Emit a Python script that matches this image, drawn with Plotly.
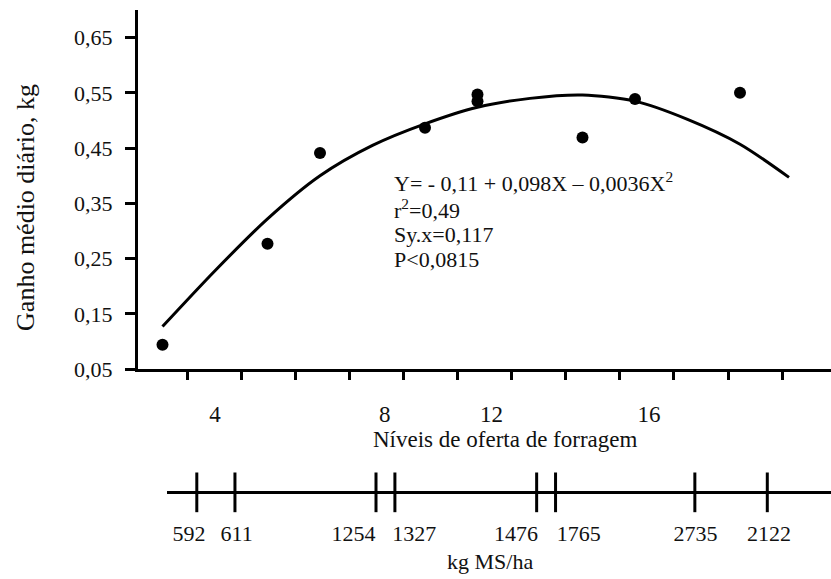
import plotly.graph_objects as go

# ---------------- data ----------------
# forage offer level (x) and daily gain (kg)
level_x = [2.5, 5.5, 7.0, 10.0, 11.5, 11.5, 14.5, 16.0, 19.0]
gain_y = [0.094, 0.277, 0.441, 0.487, 0.547, 0.535, 0.469, 0.539, 0.550]

# fitted quadratic curve
curve_x = [2.5, 4.0, 5.5, 7.0, 8.5, 10.0, 11.5, 13.0, 14.5, 16.0, 17.5, 19.0, 20.4]
curve_y = [0.127, 0.228, 0.322, 0.400, 0.455, 0.494, 0.524, 0.540, 0.546, 0.535, 0.502, 0.457, 0.397]

# main x axis labels (as printed) and where they sit on the level scale
x_labels = ["4", "8", "12", "16"]
x_label_pos = [4.0, 8.85, 11.9, 16.4]

# y axis ticks
y_ticks = [0.05, 0.15, 0.25, 0.35, 0.45, 0.55, 0.65]
y_ticklabels = ["0,05", "0,15", "0,25", "0,35", "0,45", "0,55", "0,65"]

# secondary scale: kg MS/ha marks and labels (positions on the level scale)
kgms_labels = ["592", "611", "1254", "1327", "1476", "1765", "2735", "2122"]
kgms_tick_x = [3.48, 4.57, 8.60, 9.14, 13.19, 13.73, 17.71, 19.78]
kgms_label_x = [3.26, 4.62, 7.96, 9.69, 12.60, 14.39, 17.73, 19.83]
kgms_base = [0] * len(kgms_tick_x)

eq_lines = [
    "Y= - 0,11 + 0,098X – 0,0036X<sup>2</sup>",
    "r<sup>2</sup>=0,49",
    "Sy.x=0,117",
    "P<0,0815",
]

# ---------------- figure ----------------
W, H = 831, 579
ML, MR, MT, MB = 138, 0, 10, 10
PW, PH = W - ML - MR, H - MT - MB


def px_x(px):
    return (px - ML) / PW


def px_y(py):
    return (H - MB - py) / PH


FONT = "Liberation Serif"
BLACK = "#000000"
TXT = "#111111"

fig = go.Figure()

fig.add_trace(go.Scatter(
    x=curve_x, y=curve_y, mode="lines",
    line=dict(color=BLACK, width=3, shape="spline", smoothing=0.8),
    xaxis="x", yaxis="y", hoverinfo="skip"))

fig.add_trace(go.Scatter(
    x=level_x, y=gain_y, mode="markers",
    marker=dict(color=BLACK, size=12),
    xaxis="x", yaxis="y"))

fig.add_trace(go.Scatter(
    x=kgms_tick_x, y=kgms_base, mode="markers",
    marker=dict(symbol="line-ns", size=29, color=BLACK,
                line=dict(width=3, color=BLACK)),
    xaxis="x2", yaxis="y2", hoverinfo="skip"))

annotations = []
eq_y = [183, 210, 236, 261]
for txt, yy in zip(eq_lines, eq_y):
    annotations.append(dict(
        text=txt, xref="paper", yref="paper",
        x=px_x(392), y=px_y(yy), xanchor="left", yanchor="middle",
        showarrow=False, font=dict(family=FONT, size=22, color=TXT)))

annotations.append(dict(
    text="Ganho médio diário, kg", xref="paper", yref="paper",
    x=px_x(26), y=px_y(208), xanchor="center", yanchor="middle",
    textangle=-90, showarrow=False,
    font=dict(family=FONT, size=26, color=TXT)))

annotations.append(dict(
    text="Níveis de oferta de forragem", xref="paper", yref="paper",
    x=px_x(505), y=px_y(442), xanchor="center", yanchor="middle",
    showarrow=False, font=dict(family=FONT, size=23, color=TXT)))

annotations.append(dict(
    text="kg MS/ha", xref="paper", yref="paper",
    x=px_x(490), y=px_y(564), xanchor="center", yanchor="middle",
    showarrow=False, font=dict(family=FONT, size=22, color=TXT)))

fig.update_layout(
    width=W, height=H,
    margin=dict(l=ML, r=MR, t=MT, b=MB),
    paper_bgcolor="white", plot_bgcolor="white",
    showlegend=False,
    font=dict(family=FONT, size=22, color=TXT),
    xaxis=dict(
        domain=[0, 1], range=[1.8, 21.6], anchor="y",
        showline=True, linewidth=3, linecolor=BLACK,
        showgrid=False, zeroline=False,
        tickmode="array", tickvals=x_label_pos, ticktext=x_labels,
        ticks="", ticklabelstandoff=22,
        tickfont=dict(family=FONT, size=23, color=TXT),
        minor=dict(tick0=3.2, dtick=1.546, ticks="outside", ticklen=8,
                   tickwidth=3, tickcolor=BLACK, showgrid=False),
    ),
    yaxis=dict(
        domain=[px_y(371), 1], range=[0.05, 0.70], anchor="x",
        showline=True, linewidth=3, linecolor=BLACK,
        showgrid=False, zeroline=False,
        tickmode="array", tickvals=y_ticks, ticktext=y_ticklabels,
        ticks="outside", ticklen=10, tickwidth=3, tickcolor=BLACK,
        ticklabelstandoff=8,
        tickfont=dict(family=FONT, size=22, color=TXT),
    ),
    xaxis2=dict(
        domain=[px_x(167), 1], range=[(167 - 75) / 35, 21.6], anchor="y2",
        showline=False, showgrid=False, zeroline=False,
        tickmode="array", tickvals=kgms_label_x, ticktext=kgms_labels,
        ticks="", ticklabelstandoff=6,
        tickfont=dict(family=FONT, size=22, color=TXT),
    ),
    yaxis2=dict(
        domain=[px_y(515), px_y(475)], range=[-1, 1], anchor="x2",
        showline=False, showgrid=False, showticklabels=False, ticks="",
        zeroline=True, zerolinecolor=BLACK, zerolinewidth=3,
    ),
    annotations=annotations,
)

fig.write_html("out.html")
